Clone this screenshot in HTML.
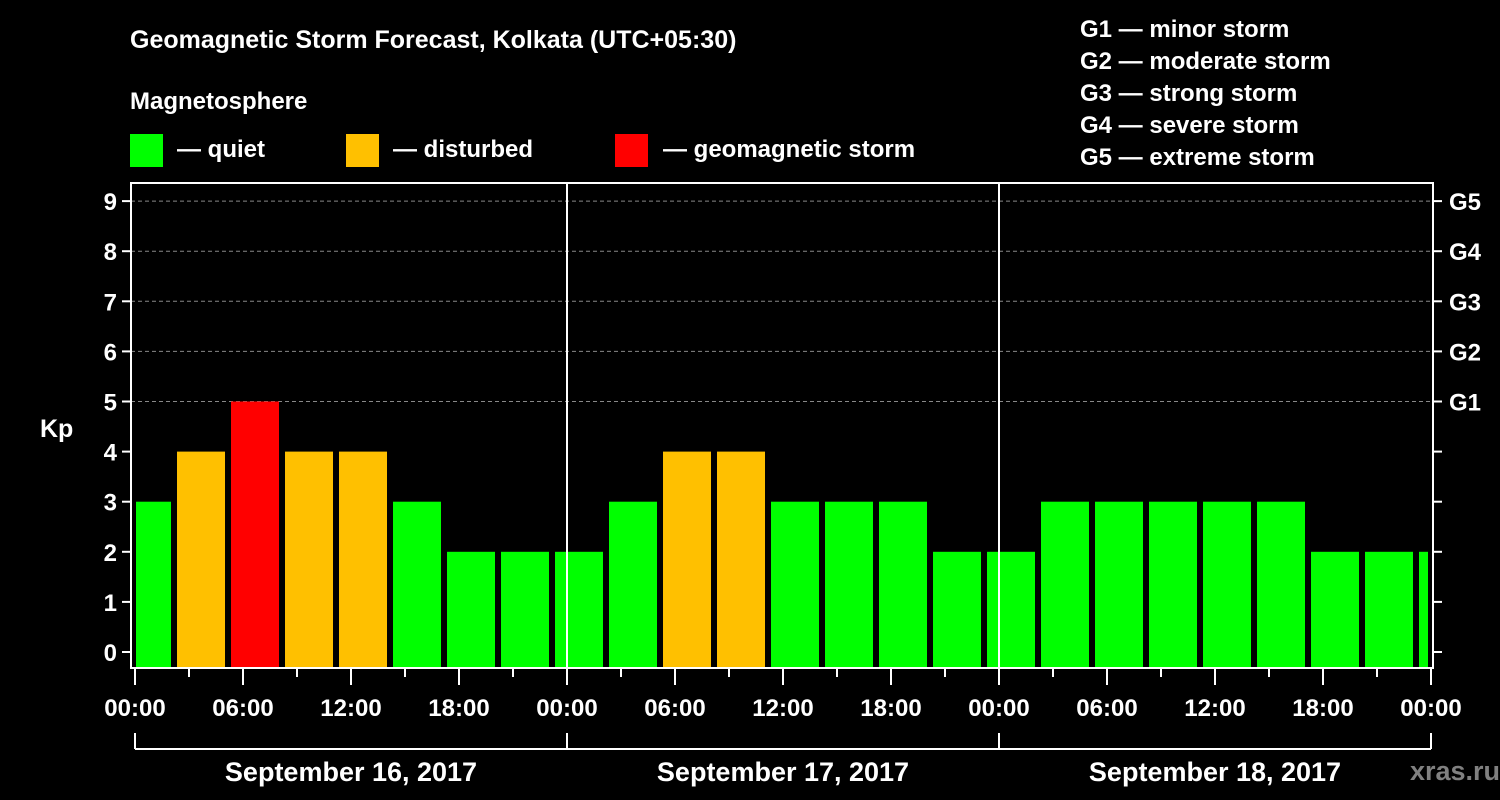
<!DOCTYPE html>
<html><head><meta charset="utf-8"><style>
html,body{margin:0;padding:0;background:#000;width:1500px;height:800px;overflow:hidden}
svg text{font-family:"Liberation Sans",Arial,sans-serif;font-weight:bold;fill:#fff}
</style></head><body>
<svg id="chart" width="1500" height="800" xmlns="http://www.w3.org/2000/svg">
<text x="130" y="48" font-size="25">Geomagnetic Storm Forecast, Kolkata (UTC+05:30)</text>
<text x="130" y="109" font-size="24">Magnetosphere</text>
<g><rect x="130" y="134" width="33" height="33" fill="#00ff00"/><text x="177" y="157" font-size="24">— quiet</text></g>
<g><rect x="346" y="134" width="33" height="33" fill="#ffc000"/><text x="393" y="157" font-size="24">— disturbed</text></g>
<g><rect x="615" y="134" width="33" height="33" fill="#ff0000"/><text x="663" y="157" font-size="24">— geomagnetic storm</text></g>
<g font-size="24">
<text x="1080" y="37">G1 — minor storm</text>
<text x="1080" y="69">G2 — moderate storm</text>
<text x="1080" y="101">G3 — strong storm</text>
<text x="1080" y="133">G4 — severe storm</text>
<text x="1080" y="165">G5 — extreme storm</text>
</g>
<text x="40" y="437" font-size="25">Kp</text>
<g id="grid"></g><g id="bars"></g><g id="axes"></g>
<text x="1500" y="780" font-size="27" text-anchor="end" style="fill:#808080">xras.ru</text>
</svg>
<script>
const kpValues=[3,4,5,4,4,3,2,2,2,3,4,4,3,3,3,2,2,3,3,3,3,3,2,2,2];
const firstBarHour=-0.833;
const barHours=3;
const gLabels=["G1","G2","G3","G4","G5"];
const yTicks=[0,1,2,3,4,5,6,7,8,9];
const timeLabels=["00:00","06:00","12:00","18:00","00:00","06:00","12:00","18:00","00:00","06:00","12:00","18:00","00:00"];
const dayLabels=["September 16, 2017","September 17, 2017","September 18, 2017"];

const NS="http://www.w3.org/2000/svg";
const L=131,R=1433,T=183,B=668;
const x=h=>135+h*18;
const y=v=>652-v*50.1;
function mk(tag,attrs,parent){const e=document.createElementNS(NS,tag);for(const k in attrs)e.setAttribute(k,attrs[k]);document.getElementById(parent).appendChild(e);return e;}
function color(v){return v>=5?"#ff0000":v>=4?"#ffc000":"#00ff00";}

for(let v=5;v<=9;v++){
 const g=mk("line",{x1:L,x2:R,y1:y(v),y2:y(v),stroke:"#888","stroke-dasharray":"4,3","stroke-width":1},"grid");
 
 
}
kpValues.forEach((v,i)=>{
 const h0=firstBarHour+i*barHours;
 let x0=x(h0)+3,x1=x(h0+barHours)-3;
 x0=Math.max(x0,L+5);x1=Math.min(x1,R-5);
 const r=mk("rect",{x:x0,y:y(v),width:x1-x0,height:B-y(v),fill:color(v)},"bars");
 
 
});
// day separators
for(let d=1;d<3;d++){
 const s=mk("line",{x1:x(24*d),x2:x(24*d),y1:T,y2:B,stroke:"#fff","stroke-width":2},"axes");
 
 
}
const fr=mk("rect",{x:L,y:T,width:R-L,height:B-T,fill:"none",stroke:"#fff","stroke-width":2},"axes");


yTicks.forEach(v=>{
 mk("line",{x1:L-9,x2:L,y1:y(v),y2:y(v),stroke:"#fff","stroke-width":2},"axes");
 mk("line",{x1:R,x2:R+9,y1:y(v),y2:y(v),stroke:"#fff","stroke-width":2},"axes");
 const t=mk("text",{x:L-14,y:y(v)+9,"font-size":24,"text-anchor":"end"},"axes");
 t.textContent=v;
 
 
});
gLabels.forEach((g,i)=>{
 const t=mk("text",{x:R+16,y:y(5+i)+9,"font-size":24},"axes");
 t.textContent=g;
 
 
});
for(let h=0;h<=72;h+=3){
 const major=h%6===0;
 mk("line",{x1:x(h),x2:x(h),y1:B,y2:B+(major?17:9),stroke:"#fff","stroke-width":2},"axes");
}
timeLabels.forEach((s,i)=>{
 const t=mk("text",{x:x(i*6),y:716,"font-size":24,"text-anchor":"middle"},"axes");
 t.textContent=s;
 
 
});
mk("line",{x1:x(0),x2:x(72),y1:749,y2:749,stroke:"#fff","stroke-width":2},"axes");
for(let d=0;d<=3;d++) mk("line",{x1:x(24*d),x2:x(24*d),y1:733,y2:749,stroke:"#fff","stroke-width":2},"axes");
dayLabels.forEach((s,i)=>{
 const t=mk("text",{x:x(24*i+12),y:781,"font-size":27,"text-anchor":"middle"},"axes");
 t.textContent=s;
 
 
});
</script>
</body></html>
